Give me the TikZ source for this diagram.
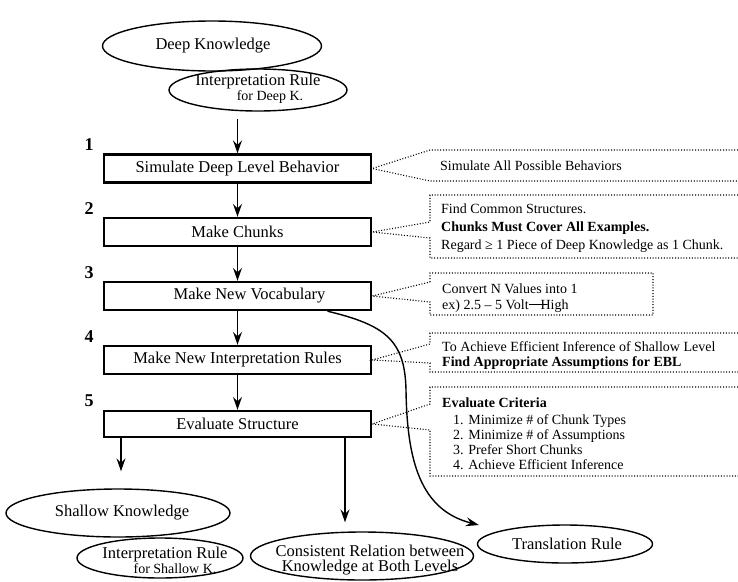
\documentclass[tikz,border=0pt]{standalone}
\usepackage{fontspec}
\setmainfont{Liberation Serif}
\usetikzlibrary{arrows.meta,shapes.geometric}
\begin{document}
\begin{tikzpicture}[x=1pt,y=1pt,
  stepbox/.style={draw, line width=2.4pt, minimum width=267pt, minimum height=28pt, inner sep=0pt, font=\fontsize{16.5}{18}\selectfont},
  oval/.style={draw, ellipse, line width=1.4pt, inner sep=0pt},
  ovaltext/.style={inner sep=0pt, align=center, font=\fontsize{16.5}{16}\selectfont},
  arr/.style={line width=1.4pt, -{Stealth[length=13pt,width=9pt,inset=4.5pt]}},
  dotline/.style={line width=1.1pt, dash pattern=on 1pt off 1.8pt},
  numlbl/.style={inner sep=0pt, font=\bfseries\fontsize{18}{20}\selectfont},
  notetext/.style={anchor=west, inner sep=0pt, align=left, font=\fontsize{14}{15}\selectfont}
]
\fill[white] (0,0) rectangle (738,-581);
\useasboundingbox (0,0) rectangle (738,-581);

% top ellipses
\node[oval, minimum width=219pt, minimum height=50pt] (deep) at (212,-46) {};
\node[ovaltext] (deepT) at (213,-46) {Deep Knowledge};
\node[oval, minimum width=178pt, minimum height=42pt] (ideep) at (258,-90) {};
\node[ovaltext] (ideepT) at (258,-89) {Interpretation Rule\\[-1pt]\hspace*{24pt}{\fontsize{14}{14}\selectfont for Deep K.}};

% step boxes
\node[stepbox] (b1) at (237.5,-168.5) {Simulate Deep Level Behavior};
\node[stepbox] (b2) at (237.5,-232) {Make Chunks};
\node[stepbox] (b3) at (237.5,-296) {\hspace*{24pt}Make New Vocabulary};
\node[stepbox] (b4) at (237.5,-360) {Make New Interpretation Rules};
\node[stepbox, minimum height=26pt] (b5) at (237.5,-424) {Evaluate Structure};

% step numbers
\node[numlbl] (n1) at (89,-145) {1};
\node[numlbl] (n2) at (89,-209) {2};
\node[numlbl] (n3) at (89,-273) {3};
\node[numlbl] (n4) at (89,-337) {4};
\node[numlbl] (n5) at (89,-401) {5};

% bottom ellipses
\node[oval, minimum width=224pt, minimum height=48pt] (shallow) at (118,-513) {};
\node[ovaltext] (shallowT) at (122,-513) {Shallow Knowledge};
\node[oval, minimum width=166pt, minimum height=40pt] (ishal) at (160,-558) {};
\node[ovaltext] (ishalT) at (165,-560) {Interpretation Rule\\[-1pt]\hspace*{20pt}{\fontsize{14}{14}\selectfont for Shallow K.}};
\node[oval, minimum width=223pt, minimum height=48pt] (cons) at (362,-556) {};
\node[ovaltext] (consT) at (370,-560) {Consistent Relation between\\[-1pt]Knowledge at Both Levels};
\node[oval, minimum width=175pt, minimum height=38pt] (trans) at (565,-544) {};
\node[ovaltext] (transT) at (567,-544) {Translation Rule};

% vertical arrows
\coordinate (a0) at ([yshift=-7pt]ideep.south);
\draw[arr] (a0 -| b1.north) -- (b1.north);
\draw[arr] (b1) -- (b2);
\draw[arr] (b2) -- (b3);
\draw[arr] (b3) -- (b4);
\draw[arr] (b4) -- (b5);
\coordinate (shTop) at ([xshift=3pt,yshift=17pt]shallow.north);
\draw[arr] (b5.south -| shTop) -- (shTop);
\coordinate (csTop) at ([xshift=-17pt,yshift=9pt]cons.north);
\draw[arr] (b5.south -| csTop) -- (csTop);

% curve to translation rule
\coordinate (vstart) at ([xshift=90pt]b3.south);
\coordinate (trTip) at ([xshift=2pt,yshift=19pt]trans.west);
\draw[arr] (vstart) .. controls (385,-325) and (405,-340) .. (406,-390)
  .. controls (407,-460) and (420,-510) .. (trTip);

% note 1
\draw[dotline] (738,-150) -- (430,-150) -- (b1.east) -- (430,-181) -- (738,-181);
\node[notetext] (t1) at (440,-166) {Simulate All Possible Behaviors};

% note 2
\draw[dotline] (738,-195) -- (430,-195) -- (430,-222) -- (b2.east) -- (430,-238) -- (430,-258) -- (738,-258);
\node[notetext, font=\fontsize{14}{18}\selectfont] (t2) at (441,-228) {Find Common Structures.\\\textbf{Chunks Must Cover All Examples.}\\Regard ≥ 1 Piece of Deep Knowledge as 1 Chunk.};

% note 3
\draw[dotline] (430,-282) -- (430,-273) -- (653,-273) -- (653,-315) -- (430,-315) -- (430,-302) -- (b3.east) -- cycle;
\node[notetext, font=\fontsize{14}{16}\selectfont] (t3) at (442,-298) {Convert N Values into 1\\ex) 2.5 – 5 Volt\rule[0.3em]{1.3em}{0.8pt}\kern-0.45em High};

% note 4
\draw[dotline] (738,-333) -- (430,-333) -- (430,-344) -- (b4.east) -- (430,-363) -- (430,-372) -- (738,-372);
\node[notetext] (t4) at (442,-355.5) {To Achieve Efficient Inference of Shallow Level\\\textbf{Find Appropriate Assumptions for EBL}};

% note 5
\draw[dotline] (738,-387) -- (430,-387) -- (430,-404) -- (b5.east) -- (430,-430) -- (430,-476) -- (738,-476);
\node[notetext] (t5) at (442,-434) {\textbf{Evaluate Criteria}\\[2pt]\hspace*{11pt}1. Minimize \# of Chunk Types\\\hspace*{11pt}2. Minimize \# of Assumptions\\\hspace*{11pt}3. Prefer Short Chunks\\\hspace*{11pt}4. Achieve Efficient Inference};
\end{tikzpicture}
\end{document}
